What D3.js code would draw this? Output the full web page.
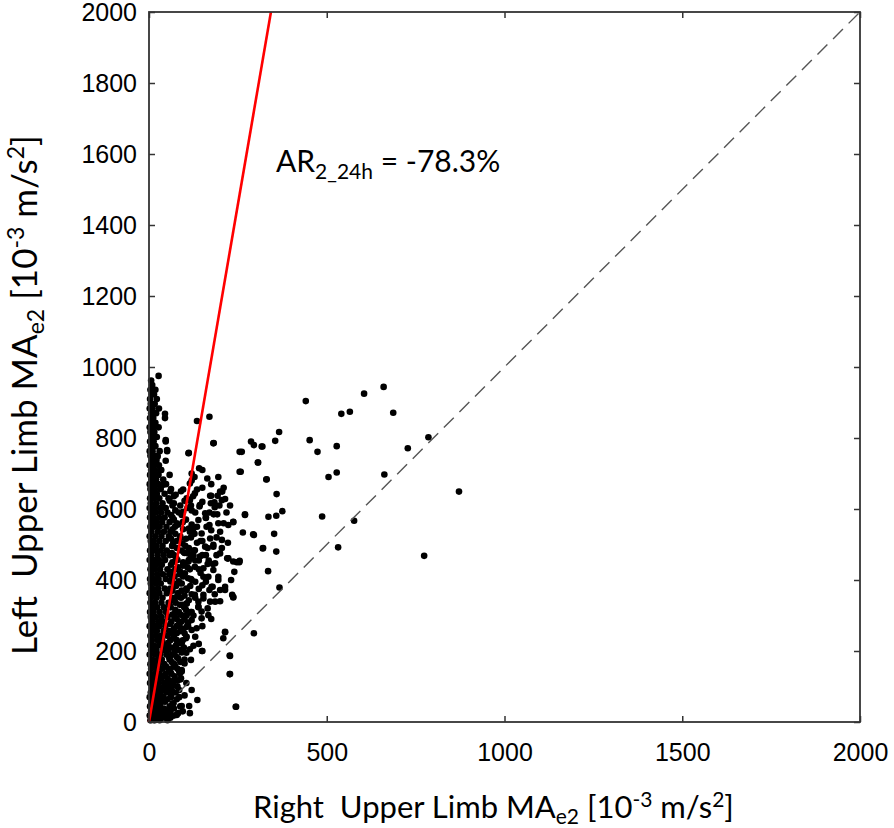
<!DOCTYPE html>
<html>
<head>
<meta charset="utf-8">
<title>Upper limb MA scatter</title>
<style>
  body { margin: 0; background: #fff; }
  svg text { fill: #000; }
  .tick text { font-family: "Liberation Sans", Arial, sans-serif; font-size: 25px; }
  .tick line { stroke: #333; stroke-width: 1.5; }
  .title { font-family: Lato, "Open Sans", sans-serif; white-space: pre; }
</style>
</head>
<body>
<svg width="894" height="828"></svg>
<script src="https://cdn.jsdelivr.net/npm/d3@7"></script>
<script>
// axis ticks
const xTicks = [0, 500, 1000, 1500, 2000];
const yTicks = [0, 200, 400, 600, 800, 1000, 1200, 1400, 1600, 1800, 2000];

// dense column near x = 0, rows of [left, [right values]]
const coreRows = [
  [5, [4, 16, 30, 52]], [18, [2, 12, 25, 40, 70]], [30, [6, 19, 33, 48]],
  [44, [3, 14, 27, 58, 88]], [57, [8, 21, 36, 45]], [70, [2, 15, 29, 62, 40]],
  [83, [5, 18, 33, 50, 75]], [96, [9, 24, 38, 56]], [110, [3, 13, 28, 44, 68]],
  [123, [7, 20, 35, 52, 90]], [136, [2, 16, 30, 47, 63]], [150, [6, 22, 38, 55, 80]],
  [163, [4, 14, 27, 43, 71]], [176, [9, 25, 36, 58, 100]], [190, [2, 17, 31, 49, 66]],
  [203, [6, 21, 40, 54, 85]], [216, [3, 12, 28, 45, 76]], [230, [8, 24, 37, 60, 95]],
  [243, [4, 18, 33, 51, 70]], [256, [7, 22, 41, 57, 88]], [270, [2, 15, 29, 46, 78, 110]],
  [283, [9, 26, 39, 63, 92]], [296, [5, 18, 34, 52, 72]], [310, [3, 13, 30, 48, 84, 120]],
  [323, [8, 23, 42, 61, 99]], [336, [4, 17, 35, 55, 75]], [350, [6, 21, 38, 66, 90, 130]],
  [363, [2, 14, 29, 50, 82]], [376, [9, 25, 44, 60, 105]], [390, [5, 19, 33, 70, 92]],
  [403, [3, 12, 27, 47, 64, 118]], [416, [7, 23, 39, 57, 86]], [430, [4, 16, 31, 52, 74, 140]],
  [443, [8, 20, 36, 62, 98]], [456, [2, 14, 28, 45, 80, 112]], [470, [6, 24, 41, 58, 70]],
  [483, [3, 17, 33, 50, 90, 125]], [496, [9, 21, 38, 65, 102]], [510, [5, 13, 29, 47, 78, 150]],
  [523, [2, 18, 35, 56, 88]], [536, [7, 25, 42, 60, 115]], [550, [4, 15, 30, 49, 73, 135]],
  [563, [8, 21, 37, 58, 95]], [576, [3, 12, 28, 44, 66, 160]], [590, [6, 19, 34, 52, 84]],
  [603, [2, 16, 31, 47, 108]]
];

// second layer of the dense band, just right of the core
const bandRows = [
  [12, [38, 60]], [25, [55, 82]], [38, [42, 70]], [52, [30, 66]], [64, [52, 78]],
  [77, [62, 28]], [90, [44, 85]], [103, [66, 50]], [116, [58, 80]], [129, [72, 42]],
  [142, [60, 85]], [156, [48, 74]], [169, [64, 88]], [183, [56, 78]], [196, [72, 92]],
  [210, [62, 98]], [223, [54, 86]], [236, [68, 104]], [250, [78, 62]], [263, [92, 70]],
  [276, [60, 86]], [290, [78, 100]], [303, [66, 88]], [316, [74, 104]], [330, [58, 94]],
  [343, [70, 112]], [356, [80, 100]], [370, [66, 92]], [383, [76, 116]], [396, [84, 60]],
  [410, [72, 96]], [423, [62, 88]], [436, [82, 108]], [450, [66, 96]], [463, [76, 118]],
  [476, [64, 100]], [490, [78, 112]], [503, [68, 94]], [516, [62, 104]], [530, [74, 128]],
  [543, [66, 96]], [556, [82, 120]], [570, [70, 104]], [583, [62, 92]], [596, [74, 120]],
  [610, [66, 88]], [623, [58, 100]], [636, [70, 124]], [650, [60, 90]]
];

// thinner column above 600
const upperRows = [
  [616, [5, 20, 38, 70]], [630, [3, 14, 29, 55]], [643, [8, 22, 44]], [656, [4, 17, 33, 62]],
  [670, [2, 11, 26, 48]], [683, [7, 20, 40]], [696, [3, 15, 26, 58]], [710, [6, 17, 34]],
  [723, [2, 12, 28]], [736, [8, 21, 47]], [750, [4, 14, 24]], [763, [2, 10, 30, 51]],
  [777, [6, 18]], [790, [3, 13, 47]], [803, [8, 22]], [817, [4, 15]], [830, [2, 11, 27]],
  [843, [7, 18]], [856, [3, 12, 45]], [870, [6, 20]], [883, [2, 10, 28]], [896, [5, 16]],
  [910, [3, 22]], [923, [8, 14]], [936, [4, 18]], [949, [9]], [962, [6]], [975, [27]]
];

// scatter between the red line and x ~ 260, [right, left]
const midPoints = [
  [87, 330], [106, 334], [139, 323], [172, 339], [148, 311], [73, 306], [106, 301],
  [82, 273], [106, 268], [120, 259], [214, 254], [209, 236], [78, 231], [92, 221],
  [73, 203], [150, 200], [228, 186], [82, 179], [69, 156], [92, 142], [228, 135],
  [73, 118], [57, 90], [92, 45], [113, 45], [136, 62], [244, 43], [53, 13], [40, 62], [31, 43],
  [129, 644], [143, 611], [158, 588], [139, 569], [162, 550], [148, 531], [172, 517],
  [158, 494], [181, 499], [129, 484], [143, 466], [111, 452], [129, 437], [153, 433],
  [101, 419], [120, 400], [87, 391], [106, 372], [82, 353], [96, 592], [106, 630],
  [78, 560], [87, 517], [200, 475], [186, 447], [167, 409], [195, 400], [176, 381],
  [153, 358], [214, 372], [172, 637], [193, 637], [200, 649], [174, 616], [198, 610],
  [214, 628], [142, 607], [223, 555], [237, 564], [200, 536], [205, 513], [181, 494],
  [223, 461], [254, 450], [195, 409], [179, 381], [200, 372], [237, 351], [153, 348],
  [139, 325], [167, 301], [148, 292], [120, 287], [134, 264], [106, 240], [80, 221],
  [92, 146], [87, 137], [64, 90], [45, 62], [69, 53], [175, 637], [206, 649], [184, 619],
  [205, 625], [182, 585], [237, 563], [220, 461], [237, 452], [240, 423], [231, 400],
  [214, 381], [234, 358], [181, 428], [170, 372], [153, 409], [129, 358], [139, 339],
  [186, 339], [106, 334], [135, 848], [170, 860], [45, 868], [47, 794], [51, 766],
  [181, 785], [111, 757], [141, 715], [150, 710], [164, 686], [120, 700], [24, 747],
  [34, 710], [40, 668], [26, 696], [115, 672], [96, 655], [128, 690], [75, 640],
  [118, 520], [135, 505], [112, 545], [125, 470], [98, 478], [140, 455], [160, 470],
  [115, 430], [95, 440], [150, 385], [130, 395], [110, 405], [165, 445], [190, 520],
  [210, 560], [170, 590], [118, 610], [95, 300], [118, 310], [100, 250], [125, 215],
  [60, 185], [105, 195], [58, 110], [80, 100], [100, 75], [60, 30], [78, 20],
  [145, 420], [168, 455], [190, 470], [205, 490], [222, 505], [175, 540], [195, 560],
  [160, 575], [185, 605], [150, 660], [175, 670], [195, 690], [210, 660], [120, 680],
  [135, 655], [115, 625], [130, 590], [150, 620], [170, 555], [192, 585], [218, 590],
  [228, 610], [125, 545], [145, 510], [165, 490], [110, 475], [130, 455], [150, 470],
  [180, 445], [120, 360], [140, 375], [160, 395], [185, 360], [200, 340], [165, 320],
  [125, 300], [150, 270], [175, 290], [110, 280], [95, 260], [130, 240], [115, 205],
  [140, 220], [100, 165], [118, 175], [88, 120], [105, 110], [120, 90], [85, 70],
  [95, 30], [115, 25]
];

// sparse points to the right, [right, left]
const sparsePoints = [
  [441, 904], [660, 944], [605, 925], [541, 868], [565, 874], [687, 871], [786, 802],
  [728, 771], [366, 817], [355, 792], [287, 790], [295, 780], [319, 776], [452, 794],
  [474, 761], [528, 777], [528, 703], [505, 690], [662, 697], [255, 761], [306, 731],
  [255, 705], [330, 683], [182, 786], [112, 758], [359, 642], [375, 594], [358, 581],
  [270, 583], [487, 579], [577, 567], [264, 534], [295, 527], [352, 530], [321, 490],
  [358, 480], [532, 492], [774, 468], [335, 425], [367, 379], [295, 250], [214, 253],
  [227, 187], [227, 135], [245, 43], [149, 200], [237, 352], [247, 450], [255, 454],
  [222, 461], [872, 649], [261, 761], [317, 776], [258, 705], [307, 731], [331, 684],
  [336, 578], [320, 489], [270, 585], [293, 529]
];

// fitted AR line and identity reference line (dashes visible from ~85)
const arLine = [[0, 0], [343, 2000]];
const identityLine = [[85, 85], [2000, 2000]];

const rowsToPoints = rows => rows.flatMap(r => r[1].map(v => [v, r[0]]));
const points = rowsToPoints(coreRows)
  .concat(rowsToPoints(bandRows), rowsToPoints(upperRows), midPoints, sparsePoints);

const svg = d3.select("svg");
const mLeft = 149, mRight = 860, mTop = 12, mBottom = 722;

const x = d3.scaleLinear().domain([0, 2000]).range([mLeft, mRight]);
const y = d3.scaleLinear().domain([0, 2000]).range([mBottom, mTop]);
const fmt = d3.format("d");

// axes with inward ticks
svg.append("g").attr("transform", `translate(0,${mBottom})`)
  .call(d3.axisBottom(x).tickValues(xTicks).tickFormat(fmt).tickSizeInner(-6).tickSizeOuter(0).tickPadding(21))
  .call(g => g.select(".domain").remove());
svg.append("g").attr("transform", `translate(${mLeft},0)`)
  .call(d3.axisLeft(y).tickValues(yTicks).tickFormat(fmt).tickSizeInner(-6).tickSizeOuter(0).tickPadding(12))
  .call(g => g.select(".domain").remove());
svg.append("g").attr("transform", `translate(0,${mTop})`)
  .call(d3.axisTop(x).tickValues(xTicks).tickSizeInner(-6).tickSizeOuter(0).tickFormat(""))
  .call(g => g.select(".domain").remove());
svg.append("g").attr("transform", `translate(${mRight},0)`)
  .call(d3.axisRight(y).tickValues(yTicks).tickSizeInner(-6).tickSizeOuter(0).tickFormat(""))
  .call(g => g.select(".domain").remove());
svg.selectAll(".tick text").attr("fill", "#000");

// dots
svg.append("g").selectAll("circle").data(points).join("circle")
  .attr("cx", d => x(d[0])).attr("cy", d => y(d[1])).attr("r", 3.3)
  .attr("fill", "#000");

const line = d3.line().x(d => x(d[0])).y(d => y(d[1]));
svg.append("path").attr("d", line(identityLine))
  .attr("stroke", "#555").attr("stroke-width", 1.4).attr("fill", "none")
  .attr("stroke-dasharray", "14,8");
svg.append("path").attr("d", line(arLine))
  .attr("stroke", "#ff0000").attr("stroke-width", 2.6).attr("fill", "none");

// frame
svg.append("rect").attr("x", mLeft).attr("y", mTop)
  .attr("width", mRight - mLeft).attr("height", mBottom - mTop)
  .attr("fill", "none").attr("stroke", "#333").attr("stroke-width", 1.8);

// annotation
const ann = svg.append("text").attr("class", "title").attr("x", 276).attr("y", 172)
  .attr("font-size", 30);
ann.append("tspan").text("AR");
ann.append("tspan").attr("font-size", 21).attr("dy", 7).text("2_24h");
ann.append("tspan").attr("dy", -7).text(" = -78.3%");

// x title
const xt = svg.append("text").attr("class", "title").attr("x", 253).attr("y", 818)
  .attr("font-size", 31);
xt.append("tspan").text("Right  Upper Limb MA");
xt.append("tspan").attr("font-size", 21).attr("dy", 6).text("e2");
xt.append("tspan").attr("dy", -6).text(" [10");
xt.append("tspan").attr("font-size", 21).attr("dy", -11).text("-3");
xt.append("tspan").attr("dy", 11).text(" m/s");
xt.append("tspan").attr("font-size", 21).attr("dy", -11).text("2");
xt.append("tspan").attr("dy", 11).text("]");

// y title
const yt = svg.append("text").attr("class", "title")
  .attr("transform", "translate(37,655) rotate(-90)").attr("font-size", 35);
yt.append("tspan").text("Left  Upper Limb MA");
yt.append("tspan").attr("font-size", 23).attr("dy", 7).text("e2");
yt.append("tspan").attr("dy", -7).text(" [10");
yt.append("tspan").attr("font-size", 23).attr("dy", -13).text("-3");
yt.append("tspan").attr("dy", 13).text(" m/s");
yt.append("tspan").attr("font-size", 23).attr("dy", -13).text("2");
yt.append("tspan").attr("dy", 13).text("]");
</script>
</body>
</html>
